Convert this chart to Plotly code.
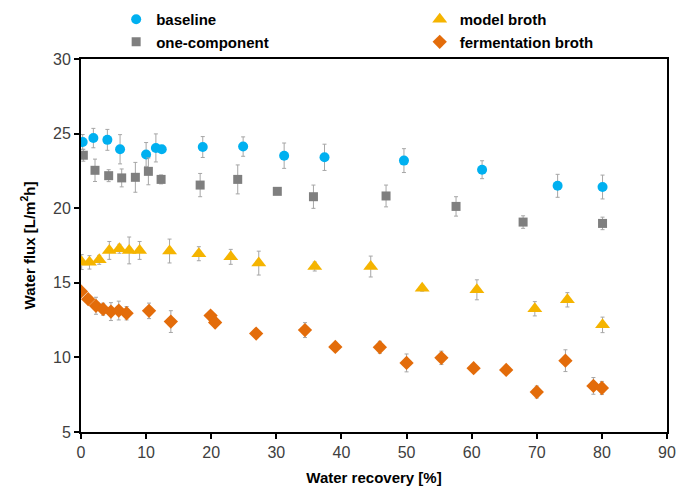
import plotly.graph_objects as go

# baseline
base_x = [0.26, 1.9, 4.05, 6.0, 10.0, 11.5, 12.4, 18.7, 24.9, 31.2, 37.4, 49.6, 61.6, 73.2, 80.1]
base_y = [24.44, 24.7, 24.58, 23.95, 23.6, 24.04, 23.95, 24.1, 24.13, 23.52, 23.41, 23.19, 22.58, 21.5, 21.42]
base_e = [0.5, 0.65, 0.7, 0.98, 0.8, 0.94, 0.2, 0.7, 0.65, 0.85, 0.88, 0.8, 0.6, 0.77, 0.8]

# one-component
one_x = [0.36, 2.15, 4.25, 6.25, 8.35, 10.35, 12.3, 18.3, 24.07, 30.15, 35.7, 46.85, 57.6, 67.9, 80.1]
one_y = [23.55, 22.54, 22.18, 22.03, 22.07, 22.47, 21.93, 21.55, 21.93, 21.13, 20.77, 20.82, 20.12, 19.07, 18.98]
one_e = [0.4, 0.75, 0.4, 0.6, 1.0, 0.9, 0.3, 0.78, 0.97, 0.1, 0.78, 0.73, 0.65, 0.42, 0.42]

# model broth
mod_x = [0.1, 1.3, 2.8, 4.35, 5.9, 7.4, 9.0, 13.6, 18.1, 23.0, 27.3, 35.9, 44.5, 52.4, 60.8, 69.7, 74.7, 80.1]
mod_y = [16.39, 16.37, 16.54, 17.17, 17.28, 17.17, 17.17, 17.13, 16.95, 16.74, 16.32, 16.09, 16.09, 14.64, 14.53, 13.26, 13.86, 12.18]
mod_e = [0.5, 0.45, 0.3, 0.6, 0.3, 0.9, 0.6, 0.8, 0.47, 0.5, 0.8, 0.3, 0.7, 0.2, 0.67, 0.48, 0.48, 0.52]

# fermentation broth
fer_x = [0.0, 1.1, 2.3, 3.4, 4.6, 5.8, 7.0, 10.45, 13.8, 19.9, 20.6, 26.9, 34.4, 39.06, 45.9, 50.0, 55.35, 60.3, 65.3, 70.0, 74.4, 78.7, 80.0]
fer_y = [14.42, 13.9, 13.46, 13.23, 13.07, 13.14, 12.96, 13.12, 12.4, 12.8, 12.34, 11.6, 11.83, 10.7, 10.68, 9.63, 9.97, 9.28, 9.16, 7.68, 9.78, 8.09, 7.95]
fer_e = [0.2, 0.2, 0.57, 0.4, 0.6, 0.63, 0.45, 0.52, 0.73, 0.15, 0.2, 0.2, 0.5, 0.15, 0.4, 0.6, 0.45, 0.15, 0.15, 0.4, 0.73, 0.56, 0.44]

x_ticks = [0, 10, 20, 30, 40, 50, 60, 70, 80, 90]
y_ticks = [5, 10, 15, 20, 25, 30]

err_col = "#A6A6A6"

def tr(name, x, y, e, color, symbol, size, legend):
    return go.Scatter(
        x=x, y=y, name=name, mode="markers", legend=legend,
        marker=dict(color=color, symbol=symbol, size=size, line=dict(width=0)),
        error_y=dict(type="data", array=e, visible=True, color=err_col, thickness=1, width=2),
    )

fig = go.Figure()
fig.add_trace(tr("baseline", base_x, base_y, base_e, "#00B0F0", "circle", 10, "legend"))
fig.add_trace(tr("one-component", one_x, one_y, one_e, "#7F7F7F", "square", 9, "legend"))
fig.add_trace(tr("model broth", mod_x, mod_y, mod_e, "#F5B400", "triangle-up", 13, "legend2"))
fig.add_trace(tr("fermentation broth", fer_x, fer_y, fer_e, "#E36C0A", "diamond", 11, "legend2"))

axis_common = dict(
    showgrid=False, zeroline=False, showline=True, linecolor="black", linewidth=2,
    mirror=True, ticks="outside", ticklen=5, tickwidth=1.5, tickcolor="black",
    tickfont=dict(family="Liberation Sans, Arial", size=16, color="#404040"),
)

leg_font = dict(family="Liberation Sans, Arial", size=15, color="black", weight="bold")

fig.update_layout(
    width=678, height=493,
    margin=dict(l=81, r=11, t=59, b=61, autoexpand=False),
    plot_bgcolor="white", paper_bgcolor="white",
    font=dict(family="Liberation Sans, Arial", color="black"),
    showlegend=True,
    legend=dict(
        orientation="v", x=0.06, y=1.15, xanchor="left", yanchor="top",
        font=leg_font, itemsizing="trace", tracegroupgap=0, bgcolor="rgba(0,0,0,0)",
        traceorder="normal",
    ),
    legend2=dict(
        orientation="v", x=0.578, y=1.15, xanchor="left", yanchor="top",
        font=leg_font, itemsizing="trace", tracegroupgap=0, bgcolor="rgba(0,0,0,0)",
        traceorder="normal",
    ),
    xaxis=dict(range=[0, 90], tickvals=x_ticks, **axis_common,
               title=dict(text="<b>Water recovery [%]</b>", font=dict(size=15, color="black"), standoff=12)),
    yaxis=dict(range=[5, 30], tickvals=y_ticks, **axis_common,
               title=dict(text="<b>Water flux [L/m<sup>2</sup>h]</b>", font=dict(size=15, color="black"), standoff=14)),
)

fig.write_html("out.html")
